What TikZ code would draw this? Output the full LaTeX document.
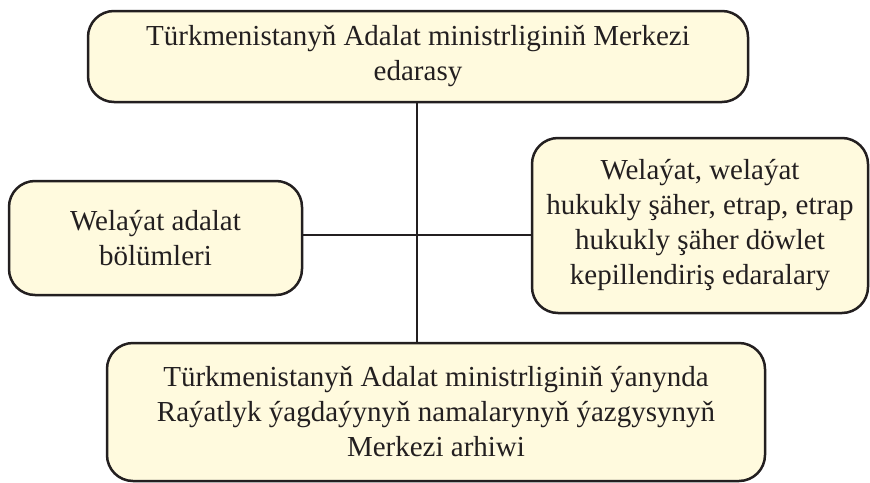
\documentclass[tikz,border=0pt]{standalone}
\usepackage{fontspec}
\setmainfont{Liberation Serif}
\definecolor{boxfill}{RGB}{255,250,222}
\definecolor{ink}{RGB}{35,31,32}
\tikzset{
  orgbox/.style={draw=ink, line width=2.5pt, fill=boxfill, rounded corners=26pt,
    inner sep=0pt, align=center, text=ink,
    font=\fontsize{29}{35}\selectfont},
  link/.style={draw=ink, line width=2pt}
}
\begin{document}
\begin{tikzpicture}[x=1pt,y=-1pt]
\useasboundingbox (0,0) rectangle (870,482);
\node[orgbox, minimum width=660pt, minimum height=91pt] (top) at (418,56.5)
  {Türkmenistanyň Adalat ministrliginiň Merkezi\\edarasy};
\node[orgbox, minimum width=293pt, minimum height=114pt] (left) at (155.5,238)
  {Welaýat adalat\\bölümleri};
\node[orgbox, minimum width=336pt, minimum height=175pt] (right) at (700,225.5)
  {Welaýat, welaýat\\hukukly şäher, etrap, etrap\\hukukly şäher döwlet\\kepillendiriş edaralary};
\node[orgbox, minimum width=658pt, minimum height=138pt] (bot) at (436,412)
  {Türkmenistanyň Adalat ministrliginiň ýanynda\\Raýatlyk ýagdaýynyň namalarynyň ýazgysynyň\\Merkezi arhiwi};
\coordinate (vx) at (417,0);
\coordinate (hy) at (0,235);
\draw[link] (top.south -| vx) -- (bot.north -| vx);
\draw[link] (left.east |- hy) -- (right.west |- hy);
\end{tikzpicture}
\end{document}
